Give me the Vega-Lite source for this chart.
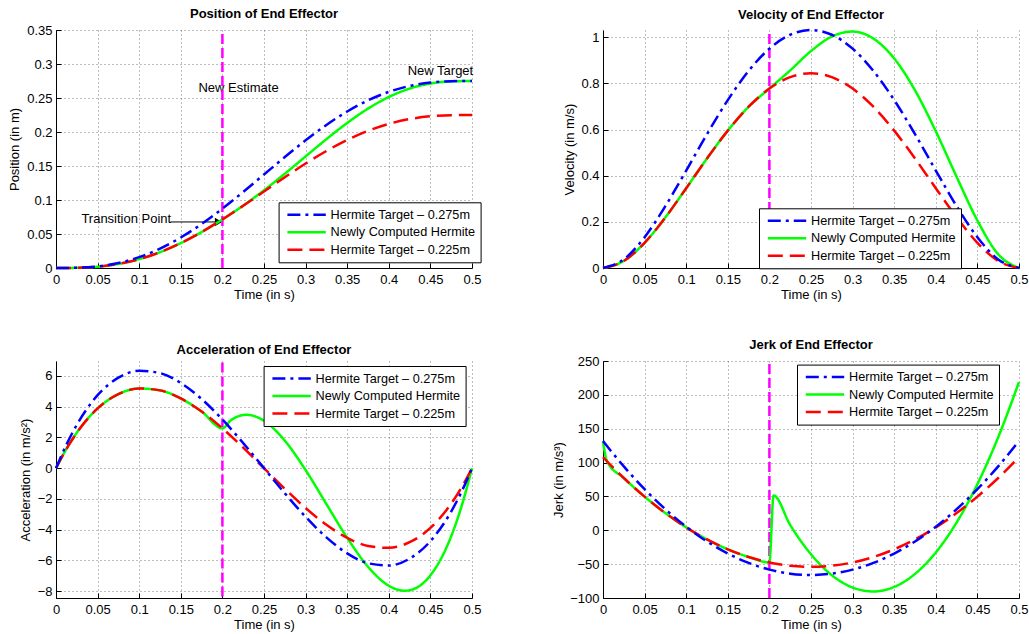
{
  "$schema": "https://vega.github.io/schema/vega-lite/v6.json",
  "background": "white",
  "padding": {"left": 8, "top": 8, "right": 5, "bottom": 5},
  "bounds": "flush",
  "columns": 2,
  "spacing": {"row": 93, "column": 131},
  "resolve": {
    "scale": {"color": "independent", "strokeDash": "independent"},
    "legend": {"color": "independent", "strokeDash": "independent"}
  },
  "config": {
    "font": "Liberation Sans",
    "view": {"stroke": null},
    "axis": {
      "labelFont": "Liberation Sans", "labelFontSize": 13, "labelColor": "#000",
      "titleFont": "Liberation Sans", "titleFontSize": 13, "titleFontWeight": "normal", "titleColor": "#000",
      "domainColor": "#000", "domainWidth": 1, "tickColor": "#000", "tickSize": -5, "tickWidth": 1,
      "grid": true, "gridColor": "#333", "gridDash": [1, 3], "gridWidth": 0.8, "gridOpacity": 0.8,
      "labelOverlap": false, "labelFlush": false, "labelBound": false
    },
    "axisX": {"labelPadding": 10},
    "axisY": {"labelPadding": 9},
    "title": {"font": "Liberation Sans", "fontSize": 13, "fontWeight": "bold", "color": "#000", "offset": 3, "frame": "group", "anchor": "middle"},
    "legend": {
      "title": null, "symbolType": "M-2.4,0H2.4", "symbolSize": 256, "symbolStrokeWidth": 2.5,
      "clipHeight": 16, "rowPadding": 1.5, "labelFont": "Liberation Sans", "labelFontSize": 12.7, "labelColor": "#000",
      "labelOffset": 14.5, "padding": 4.5, "strokeColor": "#000", "fillColor": "#fff", "symbolOffset": 14, "labelLimit": 300
    }
  },
  "datasets": {
    "pos": [
      {"t":0,"b":0,"g":0,"r":0},
      {"t":0.025,"b":0.000318,"g":0.000261,"r":0.000261},
      {"t":0.05,"b":0.002354,"g":0.001926,"r":0.001926},
      {"t":0.075,"b":0.007318,"g":0.005988,"r":0.005988},
      {"t":0.1,"b":0.015928,"g":0.013032,"r":0.013032},
      {"t":0.125,"b":0.028467,"g":0.023291,"r":0.023291},
      {"t":0.15,"b":0.044847,"g":0.036693,"r":0.036693},
      {"t":0.175,"b":0.064671,"g":0.052913,"r":0.052913},
      {"t":0.2,"b":0.087296,"g":0.071424,"r":0.071424},
      {"t":0.225,"b":0.11189,"g":0.091801,"r":0.091546},
      {"t":0.25,"b":0.1375,"g":0.114275,"r":0.1125},
      {"t":0.275,"b":0.16311,"g":0.13863,"r":0.133454},
      {"t":0.3,"b":0.187704,"g":0.16407,"r":0.153576},
      {"t":0.325,"b":0.210329,"g":0.189418,"r":0.172087},
      {"t":0.35,"b":0.230153,"g":0.213307,"r":0.188307},
      {"t":0.375,"b":0.246533,"g":0.234378,"r":0.201709},
      {"t":0.4,"b":0.259072,"g":0.251473,"r":0.211968},
      {"t":0.425,"b":0.267682,"g":0.263833,"r":0.219012},
      {"t":0.45,"b":0.272646,"g":0.271298,"r":0.223074},
      {"t":0.475,"b":0.274682,"g":0.27449,"r":0.224739},
      {"t":0.5,"b":0.275,"g":0.275,"r":0.225}
    ],
    "vel": [
      {"t":0,"b":0,"g":0,"r":0},
      {"t":0.025,"b":0.037228,"g":0.030459,"r":0.030459},
      {"t":0.05,"b":0.13365,"g":0.10935,"r":0.10935},
      {"t":0.075,"b":0.268228,"g":0.219459,"r":0.219459},
      {"t":0.1,"b":0.4224,"g":0.3456,"r":0.3456},
      {"t":0.125,"b":0.580078,"g":0.474609,"r":0.474609},
      {"t":0.15,"b":0.72765,"g":0.59535,"r":0.59535},
      {"t":0.175,"b":0.853978,"g":0.698709,"r":0.698709},
      {"t":0.2,"b":0.9504,"g":0.7776,"r":0.7776},
      {"t":0.225,"b":1.010728,"g":0.856136,"r":0.826959},
      {"t":0.25,"b":1.03125,"g":0.9402,"r":0.84375},
      {"t":0.275,"b":1.010728,"g":1.00274,"r":0.826959},
      {"t":0.3,"b":0.9504,"g":1.024512,"r":0.7776},
      {"t":0.325,"b":0.853978,"g":0.994086,"r":0.698709},
      {"t":0.35,"b":0.72765,"g":0.907843,"r":0.59535},
      {"t":0.375,"b":0.580078,"g":0.76998,"r":0.474609},
      {"t":0.4,"b":0.4224,"g":0.5925,"r":0.3456},
      {"t":0.425,"b":0.268228,"g":0.395212,"r":0.219459},
      {"t":0.45,"b":0.13365,"g":0.205776,"r":0.10935},
      {"t":0.475,"b":0.037228,"g":0.059582,"r":0.030459},
      {"t":0.5,"b":0,"g":0,"r":0}
    ],
    "acc": [
      {"t":0,"b":0,"g":0,"r":0},
      {"t":0.0125,"b":1.5283,"g":1.2504,"r":1.2504},
      {"t":0.025,"b":2.8215,"g":2.3085,"r":2.3085},
      {"t":0.05,"b":4.752,"g":3.888,"r":3.888},
      {"t":0.075,"b":5.8905,"g":4.8195,"r":4.8195},
      {"t":0.1,"b":6.336,"g":5.184,"r":5.184},
      {"t":0.125,"b":6.1875,"g":5.0625,"r":5.0625},
      {"t":0.15,"b":5.544,"g":4.536,"r":4.536},
      {"t":0.175,"b":4.5045,"g":3.6855,"r":3.6855},
      {"t":0.2,"b":3.168,"g":2.592,"r":2.592},
      {"t":0.21,"g":3.107},
      {"t":0.225,"b":1.6335,"g":3.4584,"r":1.3365},
      {"t":0.229,"g":3.474},
      {"t":0.25,"b":0,"g":3.0864,"r":0},
      {"t":0.275,"b":-1.6335,"g":1.7885,"r":-1.3365},
      {"t":0.3,"b":-3.168,"g":-0.1229,"r":-2.592},
      {"t":0.325,"b":-4.5045,"g":-2.3353,"r":-3.6855},
      {"t":0.35,"b":-5.544,"g":-4.5361,"r":-4.536},
      {"t":0.375,"b":-6.1875,"g":-6.4129,"r":-5.0625},
      {"t":0.4,"b":-6.336,"g":-7.6533,"r":-5.184},
      {"t":0.419,"g":-7.977},
      {"t":0.425,"b":-5.8905,"g":-7.9447,"r":-4.8195},
      {"t":0.45,"b":-4.752,"g":-6.9747,"r":-3.888},
      {"t":0.475,"b":-2.8215,"g":-4.4299,"r":-2.3085},
      {"t":0.4875,"b":-1.5283,"g":-2.4708,"r":-1.2504},
      {"t":0.5,"b":0,"g":0,"r":0}
    ],
    "jerk": [
      {"t":0,"b":132,"g":131,"r":108},
      {"t":0.005,"b":124.16,"g":101.58,"r":101.58},
      {"t":0.025,"b":94.38,"g":77.22,"r":77.22},
      {"t":0.05,"b":60.72,"g":49.68,"r":49.68},
      {"t":0.075,"b":31.02,"g":25.38,"r":25.38},
      {"t":0.1,"b":5.28,"g":4.32,"r":4.32},
      {"t":0.125,"b":-16.5,"g":-13.5,"r":-13.5},
      {"t":0.15,"b":-34.32,"g":-28.08,"r":-28.08},
      {"t":0.175,"b":-48.18,"g":-39.42,"r":-39.42},
      {"t":0.2,"b":-58.08,"g":-47.52,"r":-47.52},
      {"t":0.205,"g":51.43},
      {"t":0.225,"b":-64.02,"g":7.805,"r":-52.38},
      {"t":0.25,"b":-66,"g":-35.482,"r":-54},
      {"t":0.275,"b":-64.02,"g":-66.269,"r":-52.38},
      {"t":0.3,"b":-58.08,"g":-84.558,"r":-47.52},
      {"t":0.325,"b":-48.18,"g":-90.347,"r":-39.42},
      {"t":0.35,"b":-34.32,"g":-83.637,"r":-28.08},
      {"t":0.375,"b":-16.5,"g":-64.427,"r":-13.5},
      {"t":0.4,"b":5.28,"g":-32.718,"r":4.32},
      {"t":0.425,"b":31.02,"g":11.49,"r":25.38},
      {"t":0.45,"b":60.72,"g":68.197,"r":49.68},
      {"t":0.475,"b":94.38,"g":137.404,"r":77.22},
      {"t":0.5,"b":132,"g":219.11,"r":108}
    ]
  },
  "concat": [
    {
      "title": "Position of End Effector",
      "width": 416, "height": 238,
      "layer": [
        {
          "data": {"values": [{"t":0.1712,"v":0.2653,"label":"New Estimate"},{"t":0.4227,"v":0.2901,"label":"New Target"},{"t":0.0305,"v":0.0717,"label":"Transition Point"}]},
          "mark": {"type": "text", "align": "left", "baseline": "middle", "fontSize": 13, "font": "Liberation Sans", "color": "#000"},
          "encoding": {"x": {"field": "t", "type": "quantitative"}, "y": {"field": "v", "type": "quantitative"}, "text": {"field": "label"}}
        },
        {
          "data": {"values": [{"t":0.1375,"t2":0.192,"v":0.0677}]},
          "mark": {"type": "rule", "color": "#000", "strokeWidth": 1},
          "encoding": {"x": {"field": "t", "type": "quantitative"}, "x2": {"field": "t2"}, "y": {"field": "v", "type": "quantitative"}}
        },
        {
          "data": {"values": [{"t":0.1953,"v":0.0677}]},
          "mark": {"type": "point", "shape": "triangle-right", "filled": true, "color": "#000", "size": 70, "opacity": 1},
          "encoding": {"x": {"field": "t", "type": "quantitative"}, "y": {"field": "v", "type": "quantitative"}}
        },
        {
          "data": {"values": [{}]},
          "mark": {"type": "rule", "color": "#FF00FF", "strokeWidth": 2.5, "strokeDash": [10, 4]},
          "encoding": {"x": {"datum": 0.2, "type": "quantitative"}, "y": {"datum": 0, "type": "quantitative"}, "y2": {"datum": 0.35}}
        },
        {
          "data": {"name": "pos"},
          "transform": [{"fold": ["g", "r", "b"], "as": ["s", "v"]}, {"filter": "isValid(datum.v)"}],
          "mark": {"type": "line", "interpolate": "monotone", "strokeWidth": 2.5},
          "encoding": {
            "x": {"field": "t", "type": "quantitative", "scale": {"domain": [0, 0.5], "nice": false},
                  "axis": {"values": [0,0.05,0.1,0.15,0.2,0.25,0.3,0.35,0.4,0.45,0.5], "tickCount": 30, "format": "~f", "title": "Time (in s)", "titleY": 26.5, "titleBaseline": "middle"}},
            "y": {"field": "v", "type": "quantitative", "scale": {"domain": [0, 0.35], "nice": false},
                  "axis": {"values": [0,0.05,0.1,0.15,0.2,0.25,0.3,0.35], "tickCount": 30, "format": "~f", "title": "Position (in m)", "titleX": -41.7, "titleBaseline": "middle"}},
            "color": {"field": "s", "type": "nominal", "scale": {"domain": ["b","g","r"], "range": ["#0000FF","#00FF00","#FF0000"]},
                      "legend": {"orient": "none", "legendX": 222.6, "legendY": 172.3, "symbolType": "M-2.4,0H2.4", "symbolSize": 256, "labelExpr": "datum.label == 'b' ? 'Hermite Target – 0.275m' : datum.label == 'g' ? 'Newly Computed Hermite' : 'Hermite Target – 0.225m'"}},
            "strokeDash": {"field": "s", "type": "nominal", "scale": {"domain": ["b","g","r"], "range": [[13,5,3,5],[1,0],[15,7]]},
                      "legend": {"orient": "none", "legendX": 222.6, "legendY": 172.3, "symbolType": "M-2.4,0H2.4", "symbolSize": 256, "labelExpr": "datum.label == 'b' ? 'Hermite Target – 0.275m' : datum.label == 'g' ? 'Newly Computed Hermite' : 'Hermite Target – 0.225m'"}}
          }
        }
      ]
    },
    {
      "title": "Velocity of End Effector",
      "width": 416, "height": 238,
      "layer": [
        {
          "data": {"values": [{}]},
          "mark": {"type": "rule", "color": "#FF00FF", "strokeWidth": 2.5, "strokeDash": [10, 4]},
          "encoding": {"x": {"datum": 0.2, "type": "quantitative"}, "y": {"datum": 0, "type": "quantitative"}, "y2": {"datum": 1.017}}
        },
        {
          "data": {"name": "vel"},
          "transform": [{"fold": ["g", "r", "b"], "as": ["s", "v"]}, {"filter": "isValid(datum.v)"}],
          "mark": {"type": "line", "interpolate": "monotone", "strokeWidth": 2.5},
          "encoding": {
            "x": {"field": "t", "type": "quantitative", "scale": {"domain": [0, 0.5], "nice": false},
                  "axis": {"values": [0,0.05,0.1,0.15,0.2,0.25,0.3,0.35,0.4,0.45,0.5], "tickCount": 30, "format": "~f", "title": "Time (in s)", "titleY": 26.5, "titleBaseline": "middle"}},
            "y": {"field": "v", "type": "quantitative", "scale": {"domain": [0, 1.03125], "nice": false},
                  "axis": {"values": [0,0.2,0.4,0.6,0.8,1], "tickCount": 30, "format": "~f", "title": "Velocity (in m/s)", "titleX": -33.8, "titleBaseline": "middle"}},
            "color": {"field": "s", "type": "nominal", "scale": {"domain": ["b","g","r"], "range": ["#0000FF","#00FF00","#FF0000"]},
                      "legend": {"orient": "none", "legendX": 156, "legendY": 178.3, "symbolType": "M-2.4,0H2.4", "symbolSize": 256, "labelExpr": "datum.label == 'b' ? 'Hermite Target – 0.275m' : datum.label == 'g' ? 'Newly Computed Hermite' : 'Hermite Target – 0.225m'"}},
            "strokeDash": {"field": "s", "type": "nominal", "scale": {"domain": ["b","g","r"], "range": [[13,5,3,5],[1,0],[15,7]]},
                      "legend": {"orient": "none", "legendX": 156, "legendY": 178.3, "symbolType": "M-2.4,0H2.4", "symbolSize": 256, "labelExpr": "datum.label == 'b' ? 'Hermite Target – 0.275m' : datum.label == 'g' ? 'Newly Computed Hermite' : 'Hermite Target – 0.225m'"}}
          }
        }
      ]
    },
    {
      "title": "Acceleration of End Effector",
      "width": 416, "height": 237,
      "layer": [
        {
          "data": {"values": [{}]},
          "mark": {"type": "rule", "color": "#FF00FF", "strokeWidth": 2.5, "strokeDash": [10, 4]},
          "encoding": {"x": {"datum": 0.2, "type": "quantitative"}, "y": {"datum": -8.35, "type": "quantitative"}, "y2": {"datum": 6.95}}
        },
        {
          "data": {"name": "acc"},
          "transform": [{"fold": ["g", "r", "b"], "as": ["s", "v"]}, {"filter": "isValid(datum.v)"}],
          "mark": {"type": "line", "interpolate": "monotone", "strokeWidth": 2.5},
          "encoding": {
            "x": {"field": "t", "type": "quantitative", "scale": {"domain": [0, 0.5], "nice": false},
                  "axis": {"values": [0,0.05,0.1,0.15,0.2,0.25,0.3,0.35,0.4,0.45,0.5], "tickCount": 30, "format": "~f", "title": "Time (in s)", "titleY": 26.5, "titleBaseline": "middle"}},
            "y": {"field": "v", "type": "quantitative", "scale": {"domain": [-8.45, 6.975], "nice": false},
                  "axis": {"values": [-8,-6,-4,-2,0,2,4,6], "tickCount": 30, "format": "~f", "title": "Acceleration (in m/s²)", "titleX": -30.5, "titleBaseline": "middle"}},
            "color": {"field": "s", "type": "nominal", "scale": {"domain": ["b","g","r"], "range": ["#0000FF","#00FF00","#FF0000"]},
                      "legend": {"orient": "none", "legendX": 207.6, "legendY": 5, "symbolType": "M-2.4,0H2.4", "symbolSize": 256, "labelExpr": "datum.label == 'b' ? 'Hermite Target – 0.275m' : datum.label == 'g' ? 'Newly Computed Hermite' : 'Hermite Target – 0.225m'"}},
            "strokeDash": {"field": "s", "type": "nominal", "scale": {"domain": ["b","g","r"], "range": [[13,5,3,5],[1,0],[15,7]]},
                      "legend": {"orient": "none", "legendX": 207.6, "legendY": 5, "symbolType": "M-2.4,0H2.4", "symbolSize": 256, "labelExpr": "datum.label == 'b' ? 'Hermite Target – 0.275m' : datum.label == 'g' ? 'Newly Computed Hermite' : 'Hermite Target – 0.225m'"}}
          }
        }
      ]
    },
    {
      "title": "Jerk of End Effector",
      "width": 416, "height": 237,
      "layer": [
        {
          "data": {"values": [{}]},
          "mark": {"type": "rule", "color": "#FF00FF", "strokeWidth": 2.5, "strokeDash": [10, 4]},
          "encoding": {"x": {"datum": 0.2, "type": "quantitative"}, "y": {"datum": -100, "type": "quantitative"}, "y2": {"datum": 248}}
        },
        {
          "data": {"name": "jerk"},
          "transform": [{"fold": ["g", "r", "b"], "as": ["s", "v"]}, {"filter": "isValid(datum.v)"}],
          "mark": {"type": "line", "interpolate": "monotone", "strokeWidth": 2.5},
          "encoding": {
            "x": {"field": "t", "type": "quantitative", "scale": {"domain": [0, 0.5], "nice": false},
                  "axis": {"values": [0,0.05,0.1,0.15,0.2,0.25,0.3,0.35,0.4,0.45,0.5], "tickCount": 30, "format": "~f", "title": "Time (in s)", "titleY": 26.5, "titleBaseline": "middle"}},
            "y": {"field": "v", "type": "quantitative", "scale": {"domain": [-100, 250], "nice": false},
                  "axis": {"values": [-100,-50,0,50,100,150,200,250], "tickCount": 30, "format": "~f", "title": "Jerk (in m/s³)", "titleX": -45, "titleBaseline": "middle"}},
            "color": {"field": "s", "type": "nominal", "scale": {"domain": ["b","g","r"], "range": ["#0000FF","#00FF00","#FF0000"]},
                      "legend": {"orient": "none", "legendX": 194, "legendY": 3.6, "symbolType": "M-2.4,0H2.4", "symbolSize": 256, "labelExpr": "datum.label == 'b' ? 'Hermite Target – 0.275m' : datum.label == 'g' ? 'Newly Computed Hermite' : 'Hermite Target – 0.225m'"}},
            "strokeDash": {"field": "s", "type": "nominal", "scale": {"domain": ["b","g","r"], "range": [[13,5,3,5],[1,0],[15,7]]},
                      "legend": {"orient": "none", "legendX": 194, "legendY": 3.6, "symbolType": "M-2.4,0H2.4", "symbolSize": 256, "labelExpr": "datum.label == 'b' ? 'Hermite Target – 0.275m' : datum.label == 'g' ? 'Newly Computed Hermite' : 'Hermite Target – 0.225m'"}}
          }
        }
      ]
    }
  ]
}
